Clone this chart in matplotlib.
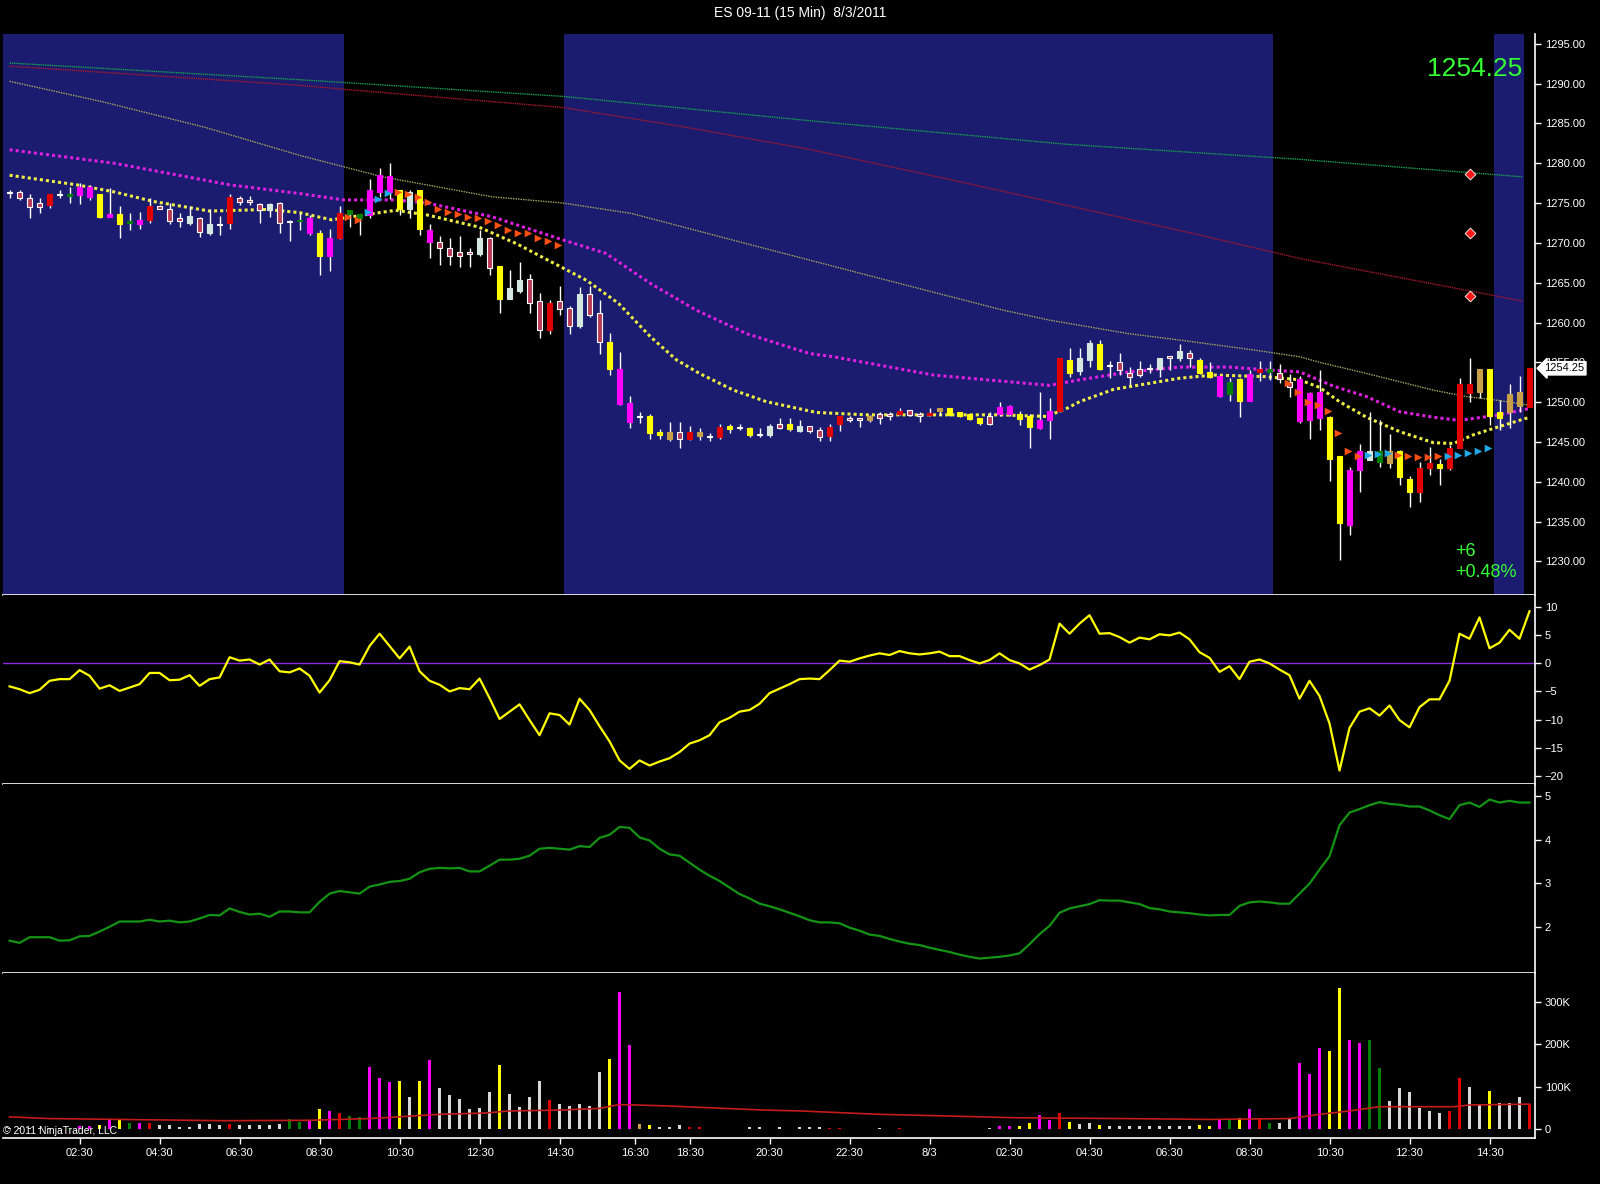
#!/usr/bin/env python3
"""ES 09-11 15 min chart, four panels."""
import matplotlib
matplotlib.use("Agg")
import matplotlib.pyplot as plt
import matplotlib.transforms as mtransforms
import numpy as np

plt.rcParams["font.family"] = ["Liberation Sans Narrow", "Liberation Sans", "DejaVu Sans"]

# ---- candles (one per 15 min bar) ----
highs = [
    1276.7, 1276.6, 1276.2, 1275.6, 1276.2, 1276.6, 1277.05, 1277.5, 1277.3, 1276.2,
    1276.85, 1274.6, 1273.7, 1273.9, 1275.6, 1274.8, 1275.05, 1273.7, 1274.6, 1273.3,
    1274.3, 1273.4, 1276.1, 1275.9, 1275.9, 1275.0, 1275.0, 1275.2, 1272.9, 1273.7,
    1273.5, 1271.6, 1271.8, 1274.6, 1274.1, 1273.6, 1278.0, 1279.4, 1280.0, 1276.7,
    1276.6, 1276.7, 1272.4, 1270.9, 1270.6, 1270.9, 1269.3, 1271.6, 1270.8, 1267.1,
    1266.6, 1267.6, 1266.1, 1263.75, 1262.8, 1264.6, 1262.1, 1264.4, 1264.6, 1262.8,
    1258.7, 1256.3, 1250.8, 1248.8, 1248.5, 1246.6, 1247.5, 1247.5, 1247.0, 1246.7,
    1246.15, 1247.25, 1247.25, 1247.25, 1246.9, 1246.7, 1247.25, 1247.95, 1247.95, 1247.75,
    1247.0, 1246.9, 1247.25, 1248.25, 1248.25, 1248.0, 1248.4, 1248.7, 1248.7, 1249.2,
    1249.0, 1248.7, 1249.2, 1249.3, 1249.2, 1248.8, 1248.45, 1248.0, 1248.7, 1250.05,
    1249.6, 1248.9, 1248.5, 1251.3, 1250.5, 1255.6, 1256.75, 1256.75, 1257.8, 1257.8,
    1255.2, 1256.2, 1254.4, 1255.2, 1254.8, 1255.5, 1255.8, 1257.3, 1256.5, 1255.5,
    1255.1, 1253.3, 1253.0, 1253.0, 1254.0, 1255.2, 1255.2, 1254.8, 1253.5, 1253.3,
    1251.3, 1254.0, 1248.25, 1243.2, 1241.8, 1244.7, 1248.8, 1247.75, 1246.0, 1244.0,
    1240.7, 1242.5, 1244.3, 1242.8, 1244.6, 1253.0, 1255.5, 1254.2, 1254.2, 1250.25,
    1252.25, 1253.3, 1254.25,
]
lows = [
    1275.6, 1275.4, 1273.1, 1273.8, 1274.35, 1275.6, 1275.05, 1274.9, 1275.4, 1273.1,
    1273.3, 1270.6, 1271.6, 1271.75, 1272.5, 1274.2, 1272.4, 1272.0, 1272.25, 1270.8,
    1271.0, 1271.0, 1271.8, 1274.8, 1274.8, 1272.5, 1273.3, 1271.3, 1270.3, 1271.6,
    1271.0, 1266.0, 1266.5, 1270.45, 1272.0, 1271.0, 1273.1, 1275.8, 1275.5, 1273.5,
    1273.1, 1271.0, 1268.1, 1267.2, 1267.2, 1267.0, 1267.0, 1268.3, 1266.0, 1261.2,
    1262.9, 1263.7, 1261.2, 1258.0, 1258.6, 1260.9, 1258.55, 1259.3, 1260.7, 1256.1,
    1253.4, 1249.6, 1246.7, 1247.4, 1245.4, 1245.4, 1245.15, 1244.2, 1245.3, 1245.2,
    1245.15, 1245.4, 1246.15, 1246.5, 1245.65, 1245.65, 1245.65, 1246.6, 1246.4, 1246.3,
    1246.15, 1245.15, 1245.15, 1246.4, 1247.45, 1246.9, 1247.45, 1247.2, 1247.7, 1248.4,
    1248.2, 1247.45, 1248.25, 1248.4, 1248.2, 1248.1, 1247.75, 1247.1, 1247.1, 1248.2,
    1248.2, 1247.1, 1244.2, 1246.6, 1245.4, 1248.8, 1253.2, 1253.4, 1254.4, 1254.0,
    1253.0, 1253.4, 1252.1, 1253.2, 1253.7, 1253.2, 1254.0, 1255.2, 1254.4, 1253.5,
    1253.0, 1250.7, 1250.2, 1248.1, 1250.2, 1252.6, 1252.8, 1252.4, 1250.7, 1247.4,
    1245.4, 1246.5, 1240.1, 1230.2, 1233.3, 1238.7, 1242.7, 1241.9, 1241.7, 1239.6,
    1236.8, 1237.5, 1240.8, 1239.6, 1241.5, 1244.2, 1250.05, 1250.5, 1247.1, 1246.5,
    1246.7, 1248.7, 1249.4,
]
body_top = [
    1276.4, 1276.35, 1275.6, 1275.0, 1276.1, 1276.1, 1276.1, 1277.05, 1277.05, 1276.1,
    1273.6, 1273.6, 1272.7, 1272.9, 1274.6, 1274.6, 1274.3, 1273.1, 1273.4, 1273.1,
    1272.4, 1272.4, 1275.8, 1275.6, 1275.4, 1274.85, 1274.85, 1275.0, 1272.75, 1272.85,
    1273.1, 1271.3, 1270.65, 1273.8, 1274.1, 1273.6, 1276.6, 1278.5, 1278.4, 1276.6,
    1276.4, 1276.6, 1271.6, 1270.1, 1269.3, 1268.8, 1268.9, 1270.6, 1270.6, 1267.1,
    1264.3, 1265.3, 1265.5, 1262.7, 1262.5, 1262.7, 1261.8, 1263.6, 1263.6, 1261.2,
    1257.6, 1254.2, 1249.9, 1248.25, 1248.25, 1246.3, 1246.2, 1246.3, 1246.2, 1246.3,
    1245.75, 1246.9, 1247.0, 1246.85, 1246.7, 1246.0, 1247.0, 1247.2, 1247.25, 1247.0,
    1247.0, 1246.5, 1246.9, 1248.25, 1248.0, 1248.0, 1248.25, 1248.45, 1248.5, 1248.9,
    1249.0, 1248.45, 1248.6, 1249.2, 1249.2, 1248.7, 1248.45, 1247.95, 1248.25, 1249.4,
    1249.5, 1248.45, 1248.25, 1247.75, 1248.9, 1255.5, 1255.3, 1255.5, 1257.4, 1257.3,
    1254.65, 1255.0, 1253.7, 1254.2, 1254.25, 1255.5, 1255.8, 1256.45, 1256.2, 1255.3,
    1253.8, 1253.3, 1252.55, 1252.85, 1253.5, 1254.2, 1254.2, 1253.7, 1252.55, 1252.85,
    1251.1, 1251.3, 1248.1, 1243.2, 1241.5, 1243.9, 1243.9, 1243.9, 1243.8, 1243.8,
    1240.4, 1241.7, 1242.4, 1242.2, 1244.2, 1252.25, 1252.25, 1254.1, 1254.1, 1248.8,
    1251.0, 1251.3, 1254.25,
]
body_bot = [
    1276.3, 1275.6, 1274.55, 1274.55, 1274.7, 1276.0, 1275.9, 1276.0, 1275.8, 1273.3,
    1273.3, 1272.4, 1272.5, 1272.4, 1272.9, 1274.3, 1272.8, 1272.8, 1272.5, 1271.4,
    1271.3, 1272.25, 1272.5, 1275.1, 1275.1, 1274.1, 1274.1, 1272.5, 1272.6, 1272.7,
    1271.3, 1268.3, 1268.35, 1270.6, 1273.6, 1273.1, 1273.5, 1276.4, 1276.4, 1274.3,
    1274.3, 1271.8, 1270.15, 1269.3, 1268.3, 1268.35, 1268.6, 1268.6, 1266.8, 1263.0,
    1263.0, 1263.9, 1262.5, 1259.1, 1259.1, 1261.65, 1259.6, 1259.5, 1260.9, 1257.5,
    1254.2, 1249.8, 1247.5, 1248.15, 1246.15, 1245.9, 1245.4, 1245.4, 1245.4, 1245.75,
    1245.65, 1245.65, 1246.6, 1246.75, 1245.9, 1245.9, 1245.9, 1246.8, 1246.6, 1246.4,
    1246.4, 1245.65, 1245.75, 1247.25, 1247.7, 1247.7, 1247.75, 1247.95, 1248.2, 1248.5,
    1248.4, 1248.2, 1248.4, 1248.9, 1248.4, 1248.25, 1247.9, 1247.4, 1247.2, 1248.5,
    1248.5, 1247.9, 1246.9, 1246.8, 1247.75, 1248.9, 1253.6, 1253.9, 1255.3, 1254.1,
    1254.55, 1254.0, 1253.2, 1253.4, 1254.15, 1254.2, 1255.5, 1255.5, 1255.5, 1253.7,
    1253.2, 1250.75, 1251.0, 1250.2, 1250.2, 1253.8, 1253.8, 1252.85, 1251.85, 1247.65,
    1247.75, 1247.95, 1242.9, 1234.8, 1234.55, 1241.5, 1242.7, 1242.5, 1242.4, 1240.6,
    1238.7, 1238.7, 1241.7, 1241.7, 1241.7, 1244.2, 1251.1, 1251.3, 1248.2, 1247.95,
    1248.8, 1249.5, 1249.4,
]
# Y yellow, M magenta, R red, G green, T tan, W white hollow, P pale
candle_codes = "".join([
    "WWWWRWGMMY", "MYGMRWWWPW", "PWRWWWPWWG", "MYMRGGMMMY", "PYMWWWWPWY",
    "PPWWRWWPWW", "YMMWYYTWRT", "WRYWYWPWYP", "WWRRWWTWWR", "WWRTYYYYWM",
    "MYYMMRYPPY", "WWWWWPWPWY", "YMGYMRGWWM", "MMYYMMPGTY", "YRRYRRRTYY",
    "TTR",
])

# ---- price panel overlays ----
ma_fast_x = [0, 6.7, 10.5, 14.4, 20, 25.8, 29, 32.2, 35.4, 38.6, 41.8, 46.9, 50.7,
             54.5, 57.7, 60.9, 64.1, 66.7, 69, 72.4, 75.7, 80.7, 85.7, 92.4, 99,
             103.7, 105.7, 107, 110.4, 113.7, 117, 120.4, 125.6, 129, 131, 133,
             135.7, 139, 142.4, 144.4, 146.4, 148.4, 152]
ma_fast = [1278.5, 1277.3, 1276.4, 1275.2, 1274.0, 1274.2, 1273.8, 1272.9, 1273.5,
           1274.1, 1273.5, 1272.0, 1269.9, 1267.4, 1265.3, 1262.4, 1258.2, 1255.3,
           1253.6, 1251.5, 1250.05, 1248.7, 1248.4, 1248.4, 1248.4, 1248.2, 1249.2,
           1250.05, 1251.6, 1252.3, 1253.0, 1253.4, 1253.2, 1252.8, 1251.85, 1250.05,
           1248.1, 1246.3, 1244.9, 1244.8, 1245.9, 1246.7, 1248.1]
ma_mid_x = [0, 10.5, 22, 29, 33.4, 38.6, 41.8, 48.2, 55.4, 59.6, 64.1, 68.6, 73.7,
            80, 82.4, 92.4, 104, 107, 112, 117, 122, 126.3, 129, 132.4, 135.7, 139,
            142.4, 145, 149, 152]
ma_mid = [1281.7, 1280.0, 1277.3, 1276.2, 1275.4, 1275.4, 1275.0, 1273.3, 1270.35,
          1268.7, 1264.9, 1261.6, 1258.6, 1256.1, 1255.7, 1253.4, 1252.1, 1252.8,
          1253.8, 1254.4, 1254.4, 1254.0, 1253.8, 1252.0, 1250.7, 1248.8, 1248.1,
          1247.7, 1248.4, 1249.2]
ma_olive_x = [0, 9.4, 19.6, 29, 37.3, 48.2, 55.4, 62.2, 73.7, 86.4, 99.2, 104, 111.9,
              117, 124.7, 129, 131, 135.7, 142.4, 145.7, 149, 152]
ma_olive = [1290.3, 1287.7, 1284.5, 1281.0, 1278.3, 1275.8, 1275.0, 1273.7, 1269.9,
            1265.75, 1261.6, 1260.3, 1258.6, 1257.8, 1256.5, 1255.7, 1255.0, 1253.6,
            1251.5, 1250.7, 1250.2, 1249.6]
ma_red_x = [0, 29, 33.4, 55.4, 67.3, 80, 92.8, 105.6, 118.3, 129, 151.3]
ma_red = [1292.2, 1289.8, 1289.3, 1287.0, 1284.6, 1281.75, 1278.3, 1274.75, 1271.2,
          1268.05, 1262.7]
ma_green_x = [0, 29, 55.4, 80, 105.6, 129, 151.3]
ma_green = [1292.6, 1290.5, 1288.4, 1285.35, 1282.4, 1280.5, 1278.3]

arrow_x = [34, 35, 36, 37, 38, 39, 40, 41, 42, 43, 44, 45, 46, 47, 48, 49, 50, 51,
           52, 53, 54, 55,
           128, 129, 130, 131, 132, 133, 134, 135, 136, 137, 138, 139, 140, 141,
           142, 143, 144, 145, 146, 147, 148]
arrow_y = [1273.3, 1272.9, 1273.9, 1275.5, 1276.3, 1276.4, 1276.2, 1275.8, 1275.2,
           1274.3, 1273.9, 1273.6, 1273.3, 1273.1, 1272.8, 1272.25, 1271.6, 1271.3,
           1271.2, 1270.6, 1270.2, 1269.7,
           1252.4, 1251.3, 1250.05, 1249.6, 1248.9, 1246.15, 1243.8, 1243.2, 1243.35,
           1243.5, 1243.6, 1243.35, 1243.2, 1243.1, 1243.1, 1243.2, 1243.2, 1243.35,
           1243.6, 1243.9, 1244.2]
arrow_kind = "OOCCCOOOOOOOOOOOOOOOOO" + "OOOOOOOOCCCOOOOOCCCCC"

diamond_x = [146, 146, 146]
diamond_y = [1278.7, 1271.2, 1263.3]

# session shading (bar index ranges)
shade_start = [-1.0, 55.45, 148.45]
shade_end = [33.45, 126.35, 151.45]

last_price = 1254.25

# ---- oscillator ----
osc = [
    -4.1, -4.6, -5.3, -4.7, -3.1, -2.8, -2.8, -1.2, -2.2, -4.5,
    -3.9, -4.9, -4.3, -3.7, -1.7, -1.7, -3.0, -2.9, -2.1, -4.0,
    -2.8, -2.5, 1.1, 0.5, 0.7, -0.2, 0.7, -1.4, -1.6, -0.9,
    -2.2, -5.2, -3.0, 0.4, 0.2, -0.2, 3.1, 5.3, 3.1, 0.9,
    3.0, -1.4, -3.1, -3.8, -5.0, -4.4, -4.6, -2.7, -6.2, -9.9,
    -8.6, -7.3, -10.1, -12.8, -8.9, -9.2, -10.9, -6.3, -8.3, -11.2,
    -13.9, -17.3, -18.8, -17.3, -18.2, -17.5, -16.9, -15.8, -14.3, -13.7,
    -12.8, -10.5, -9.7, -8.6, -8.3, -7.2, -5.3, -4.5, -3.7, -2.8,
    -2.7, -2.8, -1.2, 0.5, 0.3, 0.9, 1.4, 1.8, 1.5, 2.2,
    1.8, 1.6, 1.8, 2.1, 1.3, 1.3, 0.6, 0.0, 0.6, 1.8,
    0.6, 0.0, -1.1, -0.3, 0.7, 7.1, 5.3, 7.1, 8.6, 5.3,
    5.4, 4.7, 3.7, 4.6, 4.3, 5.2, 5.0, 5.5, 4.3, 2.0,
    1.0, -1.5, -0.5, -2.8, 0.3, 0.7, 0.0, -1.1, -2.1, -6.3,
    -3.1, -5.8, -10.7, -19.1, -11.5, -8.6, -8.0, -9.3, -7.5, -10.1,
    -11.4, -7.8, -6.4, -6.4, -3.1, 5.3, 4.4, 8.2, 2.7, 3.7,
    6.0, 4.4, 9.3,
]

# ---- green indicator ----
green_line = [
    1.68, 1.63, 1.76, 1.76, 1.76, 1.68, 1.69, 1.78, 1.79, 1.89,
    2.0, 2.12, 2.12, 2.12, 2.16, 2.12, 2.14, 2.10, 2.12, 2.19,
    2.27, 2.26, 2.42, 2.34, 2.28, 2.30, 2.23, 2.35, 2.35, 2.33,
    2.33, 2.57, 2.76, 2.82, 2.79, 2.76, 2.92, 2.97, 3.03, 3.05,
    3.10, 3.25, 3.33, 3.35, 3.34, 3.35, 3.27, 3.27, 3.40, 3.54,
    3.54, 3.56, 3.63, 3.79, 3.81, 3.79, 3.77, 3.85, 3.83, 4.04,
    4.11, 4.29, 4.27, 4.05, 3.98, 3.79, 3.66, 3.63, 3.47, 3.31,
    3.17, 3.05, 2.90, 2.75, 2.65, 2.53, 2.47, 2.40, 2.32, 2.24,
    2.15, 2.10, 2.10, 2.08, 1.98, 1.91, 1.82, 1.79, 1.72, 1.66,
    1.61, 1.58, 1.52, 1.47, 1.42, 1.36, 1.31, 1.27, 1.29, 1.31,
    1.34, 1.39, 1.60, 1.83, 2.02, 2.32, 2.42, 2.47, 2.52, 2.61,
    2.60, 2.60, 2.56, 2.52, 2.43, 2.40, 2.35, 2.33, 2.31, 2.28,
    2.26, 2.27, 2.27, 2.48, 2.56, 2.58, 2.56, 2.53, 2.53, 2.76,
    2.99, 3.31, 3.62, 4.33, 4.62, 4.70, 4.79, 4.86, 4.82, 4.80,
    4.76, 4.76, 4.67, 4.56, 4.47, 4.79, 4.85, 4.75, 4.92, 4.85,
    4.89, 4.85, 4.85,
]

# ---- volume (thousands) ----
volume = [
    2, 2, 2, 2, 2, 3, 3, 8, 8, 9,
    25, 25, 15, 15, 15, 9, 9, 5, 5, 12,
    12, 9, 12, 9, 9, 9, 9, 12, 23, 17,
    21, 47, 42, 38, 31, 28, 147, 121, 111, 113,
    76, 113, 162, 97, 80, 71, 47, 50, 87, 151,
    82, 52, 75, 113, 68, 59, 55, 59, 55, 134,
    165, 323, 198, 12, 9, 5, 5, 9, 5, 5,
    1, 1, 1, 1, 5, 5, 1, 5, 1, 5,
    5, 5, 3, 3, 1, 1, 1, 3, 1, 3,
    1, 1, 1, 1, 1, 1, 1, 1, 3, 8,
    8, 7, 15, 33, 21, 38, 17, 13, 15, 9,
    7, 7, 7, 7, 7, 7, 7, 7, 7, 9,
    7, 23, 21, 26, 47, 26, 15, 15, 26, 156,
    129, 192, 185, 333, 209, 203, 210, 143, 66, 96,
    87, 50, 43, 39, 44, 121, 99, 56, 90, 61,
    61, 75, 60,
]
volume_codes = "".join([
    "WWWWWWGMMY", "MYGMRWWWWW", "WWRWWWWWGG", "MYMRGGMMMY", "WYMWWWWWWY",
    "WWWWRWWWWW", "YMMTYWWWRR", "WWWWWWWWWW", "WWRRWWWWWR", "WWWWWWWWWM",
    "MYYMMRYWWY", "WWWWWWWWWY", "YMGYMRGWWM", "MMYYMMGGWW", "WWWWRRWWYW",
    "WWR",
])
vol_avg_x = [0, 4, 21.5, 30, 36, 43, 47.5, 50, 55, 59, 61, 65.5, 70.5, 75.5, 79, 87,
             94, 100.5, 111.5, 120, 128, 131, 134, 137, 144.5, 146, 152]
vol_avg = [29, 25, 20, 21, 25, 35, 38, 43, 45, 49, 58, 55, 50, 45, 43, 35, 31, 27,
           25, 23, 25, 35, 43, 53, 53, 57, 59]

tick_pos = [7, 15, 23, 31, 39, 47, 55, 62.5, 68, 76, 84, 92, 100, 108, 116, 124, 132, 140, 148]
tick_labels = ["02:30", "04:30", "06:30", "08:30", "10:30", "12:30", "14:30", "16:30",
               "18:30", "20:30", "22:30", "8/3", "02:30", "04:30", "06:30", "08:30",
               "10:30", "12:30", "14:30"]

FACE = {"Y": "#ffff00", "M": "#ff00ff", "R": "#e00000", "G": "#008000",
        "T": "#c8a048", "W": "#b83a58", "P": "#d4e8e0"}
EDGE = {"Y": "#ffff00", "M": "#ff00ff", "R": "#e00000", "G": "#008000",
        "T": "#c8a048", "W": "#ffffff", "P": "#d4e8e0"}
VOLC = {"Y": "#ffff00", "M": "#ff00ff", "R": "#e00000", "G": "#008000",
        "T": "#c8a048", "W": "#d8d8d8"}
BLUE = "#1b1b6f"

W, H = 1600, 1184
fig = plt.figure(figsize=(W / 100, H / 100), dpi=100, facecolor="black")


def panel(top_px, bottom_px):
    left, right = 3, 1535
    return fig.add_axes([left / W, 1 - bottom_px / H, (right - left) / W,
                         (bottom_px - top_px) / H], facecolor="black")


ax_p = panel(33.7, 595)
ax_o = panel(595, 784)
ax_g = panel(784, 972.5)
ax_v = panel(972.5, 1138)

n = len(highs)
x = np.arange(n)
XMIN, XMAX = -0.66, 152.55

for ax in (ax_p, ax_o, ax_g, ax_v):
    ax.set_xlim(XMIN, XMAX)
    ax.yaxis.tick_right()
    ax.tick_params(axis="y", colors="white", labelsize=8, length=4, width=1,
                   direction="out", pad=3)
    ax.tick_params(axis="x", colors="white", labelsize=8, length=4, width=1,
                   direction="out")
    for side in ("left", "top"):
        ax.spines[side].set_visible(False)
    for side in ("right", "bottom"):
        ax.spines[side].set_color("white")
        ax.spines[side].set_linewidth(1.2)
    ax.set_xticks(tick_pos)
    ax.set_xticklabels(tick_labels)
for ax in (ax_p, ax_o, ax_g):
    ax.tick_params(axis="x", bottom=False, labelbottom=False)

# ---- price panel ----
for s, e in zip(shade_start, shade_end):
    ax_p.axvspan(s, e, color=BLUE, zorder=0, lw=0)

ax_p.plot(ma_green_x, ma_green, color="#16a050", lw=1, ls=(0, (1, 0.6)), zorder=2)
ax_p.plot(ma_red_x, ma_red, color="#a8182c", lw=1, ls=(0, (1, 0.6)), zorder=2)
ax_p.plot(ma_olive_x, ma_olive, color="#a8a860", lw=1, ls=(0, (1, 0.8)), zorder=2)
ax_p.plot(ma_mid_x, ma_mid, color="#e020e0", lw=2.2, ls=(0, (1, 1)), zorder=2)
ax_p.plot(ma_fast_x, ma_fast, color="#eeee44", lw=2.2, ls=(0, (1, 1)), zorder=2)

hi = np.array(highs)
lo = np.array(lows)
bt = np.array(body_top)
bb = np.array(body_bot)
ax_p.vlines(x, lo, hi, color="white", lw=1, zorder=3)
codes = np.array(list(candle_codes))
for code in FACE:
    m = codes == code
    if m.any():
        ax_p.bar(x[m], np.maximum(bt[m] - bb[m], 0.08), bottom=bb[m], width=0.42,
                 color=FACE[code], edgecolor=EDGE[code], lw=0.8, zorder=4)

ax_x = np.array(arrow_x) - 0.2
ax_y = np.array(arrow_y)
kinds = np.array(list(arrow_kind))
ax_p.scatter(ax_x[kinds == "O"], ax_y[kinds == "O"], marker=">", s=30,
             color="#ff5010", lw=0, zorder=5)
ax_p.scatter(ax_x[kinds == "C"], ax_y[kinds == "C"], marker=">", s=30,
             color="#20a8e8", lw=0, zorder=5)
ax_p.scatter(diamond_x, diamond_y, marker="D", s=30, color="#ff1818",
             edgecolor="white", lw=0.6, zorder=5)

ax_p.set_ylim(1225.77, 1296.28)
ax_p.set_yticks(np.arange(1230, 1296, 5))
ax_p.set_yticklabels([f"{v:.2f}" for v in np.arange(1230, 1296, 5)])

ax_p.text(0.9915, 0.938, f"{last_price:.2f}", transform=ax_p.transAxes,
          ha="right", va="center", color="#33ff33", fontsize=19,
          family="Liberation Sans", zorder=6)
ax_p.text(0.948, 0.078, "+6", transform=ax_p.transAxes, ha="left", va="center",
          color="#33ff33", fontsize=13, family="Liberation Sans", zorder=6)
ax_p.text(0.948, 0.040, "+0.48%", transform=ax_p.transAxes, ha="left",
          va="center", color="#33ff33", fontsize=13, family="Liberation Sans",
          zorder=6)
blend = mtransforms.blended_transform_factory(ax_p.transAxes, ax_p.transData)
ax_p.text(1.006, last_price, f"{last_price:.2f}", transform=blend, ha="left",
          va="center", color="black", fontsize=8, zorder=10, clip_on=False,
          bbox=dict(boxstyle="larrow,pad=0.15", fc="white", ec="white"))

# ---- oscillator panel ----
ax_o.axhline(0, color="#8a2be2", lw=1, zorder=1)
ax_o.plot(x, osc, color="#ffff00", lw=1.6, zorder=2)
ax_o.set_ylim(-21.5, 12.2)
ax_o.set_yticks([-20, -15, -10, -5, 0, 5, 10])

# ---- green panel ----
ax_g.plot(x, green_line, color="#149414", lw=1.6, zorder=2)
ax_g.set_ylim(0.95, 5.276)
ax_g.set_yticks([2, 3, 4, 5])

# ---- volume panel ----
vcol = [VOLC[c] for c in volume_codes]
ax_v.bar(x, volume, width=0.3, color=vcol, lw=0, zorder=2)
ax_v.plot(vol_avg_x, vol_avg, color="#c41a1a", lw=1.2, zorder=3)
ax_v.set_ylim(-20.7, 368.8)
ax_v.set_yticks([0, 100, 200, 300])
ax_v.set_yticklabels(["0", "100K", "200K", "300K"])
ax_v.text(0.0, 0.042, "\u00a9 2011 NinjaTrader, LLC", transform=ax_v.transAxes,
          ha="left", va="center", color="white", fontsize=7.5, zorder=6)

fig.text(0.5, 1 - 12.5 / H, "ES 09-11 (15 Min)  8/3/2011", ha="center",
         va="center", color="white", fontsize=10, family="Liberation Sans")

fig.savefig("out.png", dpi=100, facecolor="black")
